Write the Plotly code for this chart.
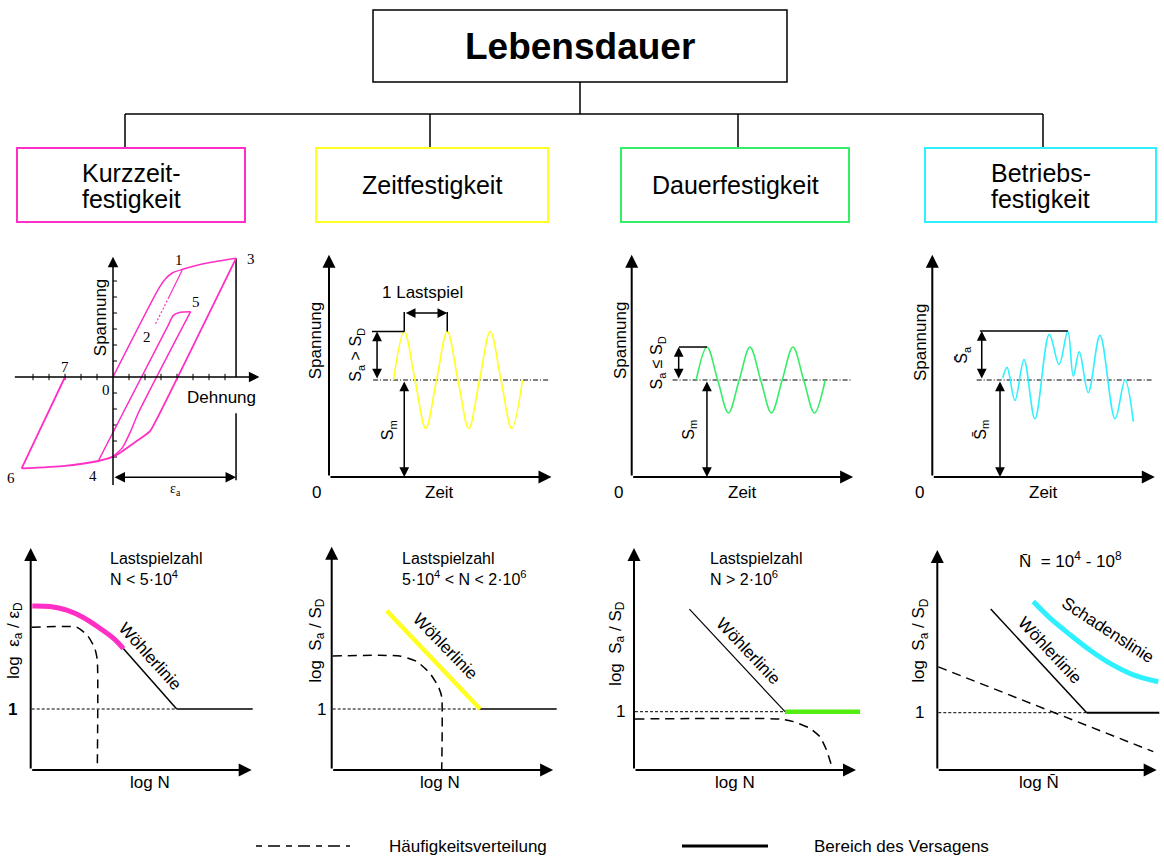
import plotly.graph_objects as go

W, H = 1164, 857
SANS = "Liberation Sans, Arial, Helvetica, sans-serif"
SERIF = "Liberation Serif, Times New Roman, serif"

MAGENTA = "#ff2ec4"
YELLOW = "#ffff22"
GREEN = "#33ee66"
GREEN_BAR = "#55ee11"
CYAN = "#2ef0ff"

# ---------------- hierarchy ----------------
root_label = "Lebensdauer"
category_lines = [["Kurzzeit-", "festigkeit"], ["Zeitfestigkeit"],
                  ["Dauerfestigkeit"], ["Betriebs-", "festigkeit"]]
category_colors = [MAGENTA, YELLOW, GREEN, CYAN]

# ---------------- hysteresis (tick units) ----------------
hyst_load_x = [0, 2.9, 3.3, 3.7, 4.35, 5.2, 6.06, 7.69]
hyst_load_y = [0, 5.6, 6.15, 6.5, 6.73, 6.97, 7.15, 7.42]
hyst_unload1_x = [4.35, 3.5]
hyst_unload1_y = [6.73, 5.0]
hyst_unload1_dot_x = [3.5, 2.65]
hyst_unload1_dot_y = [5.0, 3.3]
hyst_outer_x = [7.69, 2.75, 2.3, 1.27, 0.5, 0.0, -0.92, -3.0, -5.71]
hyst_outer_y = [7.42, -2.6, -3.4, -4.15, -4.7, -4.98, -5.25, -5.55, -5.71]
hyst_reload_x = [-5.71, -3.0]
hyst_reload_y = [-5.71, 0.0]
hyst_inner_up_x = [-0.92, 3.44, 3.77, 4.2, 4.85]
hyst_inner_up_y = [-5.25, 3.21, 3.85, 4.05, 4.08]
hyst_inner_down_x = [4.85, 1.56, 1.1, 0.6, 0.0]
hyst_inner_down_y = [4.08, -2.3, -3.4, -4.4, -4.98]
hyst_eps_a = 7.69
hyst_point_labels = ["1", "2", "3", "4", "5", "6", "7", "0"]
hyst_point_x = [4.1, 2.1, 8.6, -1.25, 5.2, -6.4, -3.0, -0.45]
hyst_point_y = [7.3, 2.5, 7.4, -6.2, 4.7, -6.3, 0.65, -0.8]

# ---------------- load-time signals (quarter-period units / stress units) ----------------
mean_stress = 10
zeit_t = [6, 7, 8, 9, 10, 11, 12, 13, 14, 15, 16, 17, 18]
zeit_s = [10, 15, 10, 5, 10, 15, 10, 5, 10, 15, 10, 5, 10]
dauer_t = [6, 7, 8, 9, 10, 11, 12, 13, 14, 15, 16, 17, 18]
dauer_s = [10, 13.4, 10, 6.6, 10, 13.4, 10, 6.6, 10, 13.4, 10, 6.6, 10]
betrieb_t = [6.55, 6.95, 7.69, 8.53, 9.55, 10.88, 11.79, 12.6, 13.12, 13.67,
             14.51, 15.6, 17.0, 17.93, 18.7]
betrieb_s = [10.2, 11.3, 7.9, 12.1, 6.0, 14.7, 11.6, 15.05, 10.4, 12.9,
             8.7, 14.6, 6.0, 10.0, 5.7]

# ---------------- S-N diagrams (log N / log S units) ----------------
kurz_mag_x = [0.08, 0.97, 1.8, 2.63, 3.47, 4.13, 4.63]
kurz_mag_y = [2.69, 2.68, 2.62, 2.5, 2.32, 2.16, 1.99]
kurz_woehler_x = [4.63, 7.3]
kurz_woehler_y = [1.99, 1.0]
kurz_freq_x = [0.05, 2.3, 2.85, 3.2, 3.33, 3.33]
kurz_freq_y = [2.34, 2.34, 2.2, 2.0, 1.8, 0.0]

zeit_woehler_x = [2.75, 7.42]
zeit_woehler_y = [2.61, 1.0]
zeit_freq_x = [0.05, 3.4, 4.25, 4.9, 5.33, 5.5, 5.5]
zeit_freq_y = [1.87, 1.87, 1.78, 1.59, 1.37, 1.2, 0.0]

dauer_woehler_x = [2.77, 7.55]
dauer_woehler_y = [2.76, 1.0]
dauer_bar_x = [7.55, 11.3]
dauer_freq_x = [0.05, 7.3, 7.97, 8.8, 9.3, 9.63, 9.89]
dauer_freq_y = [0.875, 0.875, 0.83, 0.715, 0.57, 0.34, 0.06]

betrieb_woehler_x = [2.67, 7.47]
betrieb_woehler_y = [2.81, 1.0]
betrieb_damage_x = [4.8, 5.64, 6.64, 7.64, 8.64, 9.8, 11.05]
betrieb_damage_y = [2.94, 2.65, 2.36, 2.09, 1.86, 1.66, 1.54]
betrieb_freq_x = [0.05, 10.8]
betrieb_freq_y = [1.8, 0.32]

fig = go.Figure()
fig.update_layout(width=W, height=H, margin=dict(l=0, r=0, t=0, b=0),
                  paper_bgcolor="white", plot_bgcolor="rgba(0,0,0,0)",
                  showlegend=False, font=dict(family=SANS, color="black"))


def names(n):
    s = "" if n == 1 else str(n)
    return "x" + s, "y" + s, "xaxis" + s, "yaxis" + s


def setup_panel(n, box, origin, scale):
    L, T, R, B = box
    ox, oy = origin
    sx, sy = scale
    xa, ya, xk, yk = names(n)
    fig.update_layout(**{
        xk: dict(domain=[L / W, R / W], range=[(L - ox) / sx, (R - ox) / sx],
                 visible=False, anchor=ya, fixedrange=True),
        yk: dict(domain=[1 - B / H, 1 - T / H], range=[(oy - B) / sy, (oy - T) / sy],
                 visible=False, anchor=xa, fixedrange=True),
    })


def line(n, x, y, color="black", width=1.5, dash=None, shape="linear", smoothing=1.0):
    xa, ya, _, _ = names(n)
    fig.add_trace(go.Scatter(x=x, y=y, xaxis=xa, yaxis=ya, mode="lines",
                             line=dict(color=color, width=width, dash=dash,
                                       shape=shape, smoothing=smoothing),
                             hoverinfo="skip"))


def arrow(n, x0, y0, x1, y1, both=False, width=1.5, size=1.3):
    xa, ya, _, _ = names(n)
    fig.add_annotation(x=x1, y=y1, ax=x0, ay=y0, xref=xa, yref=ya, axref=xa, ayref=ya,
                       text="", showarrow=True, arrowhead=2, arrowsize=size,
                       arrowwidth=width, arrowcolor="black",
                       arrowside="end+start" if both else "end",
                       startarrowhead=2, startarrowsize=size, standoff=0, startstandoff=0)


def label(n, x, y, text, size=17, angle=0, family=SANS, xanchor="center"):
    xa, ya, _, _ = names(n)
    fig.add_annotation(x=x, y=y, xref=xa, yref=ya, text=text, showarrow=False,
                       textangle=angle, xanchor=xanchor, yanchor="middle", align=xanchor,
                       font=dict(family=family, size=size, color="black"))


def px(p):
    return p / W


def py(p):
    return 1 - p / H


def paper_text(x, y, text, size, xanchor="center"):
    fig.add_annotation(xref="paper", yref="paper", x=px(x), y=py(y), text=text,
                       showarrow=False, xanchor=xanchor, yanchor="middle",
                       font=dict(family=SANS, size=size, color="black"))


# ---------------- hierarchy boxes ----------------
fig.add_shape(type="rect", xref="paper", yref="paper", x0=px(373), x1=px(787),
              y0=py(82), y1=py(10), line=dict(color="black", width=1.5))
paper_text(580, 47, "<b>" + root_label + "</b>", 37)
fig.add_shape(type="line", xref="paper", yref="paper", x0=px(580), x1=px(580), y0=py(82), y1=py(114),
              line=dict(color="black", width=1.5))
drop_x = [125, 430, 738, 1043]
fig.add_shape(type="line", xref="paper", yref="paper", x0=px(drop_x[0]), x1=px(drop_x[-1]),
              y0=py(114), y1=py(114), line=dict(color="black", width=1.5))
box_x = [(17, 245), (316, 548), (621, 849), (925, 1156)]
for dx, (x0, x1), lines_, col in zip(drop_x, box_x, category_lines, category_colors):
    fig.add_shape(type="line", xref="paper", yref="paper", x0=px(dx), x1=px(dx), y0=py(114), y1=py(148),
                  line=dict(color="black", width=1.5))
    fig.add_shape(type="rect", xref="paper", yref="paper", x0=px(x0), x1=px(x1), y0=py(222), y1=py(148),
                  line=dict(color=col, width=2))
    cx = (x0 + x1) / 2
    ys = [185] if len(lines_) == 1 else [173, 199]
    for t, yy in zip(lines_, ys):
        paper_text(cx, yy, t, 25)

# ---------------- panel 1: hysteresis ----------------
setup_panel(1, (0, 240, 290, 505), (113, 377), (16, 16))
arrow(1, -6.23, 0, 9.15, 0, width=1.5, size=1.4)
arrow(1, 0, -6.85, 0, 7.52, width=1.5, size=1.4)
tx, ty = [], []
for k in range(-5, 8):
    if k != 0:
        tx += [k, k, None]
        ty += [-0.2, 0.2, None]
for k in range(-5, 7):
    if k != 0:
        tx += [0, 0.25, None]
        ty += [k, k, None]
line(1, tx, ty, width=1)
line(1, [hyst_eps_a, hyst_eps_a], [hyst_load_y[-1], 0], width=1.5)
line(1, [hyst_eps_a, hyst_eps_a], [-2.27, -6.45], width=1.5)
arrow(1, 0, -6.27, hyst_eps_a, -6.27, both=True, width=1.5, size=1.4)
line(1, hyst_load_x, hyst_load_y, color=MAGENTA, width=1.5, shape="spline", smoothing=0.6)
line(1, hyst_unload1_x, hyst_unload1_y, color=MAGENTA, width=1.2)
line(1, hyst_unload1_dot_x, hyst_unload1_dot_y, color=MAGENTA, width=1.2, dash="2px,2px")
line(1, hyst_outer_x, hyst_outer_y, color=MAGENTA, width=1.8, shape="spline", smoothing=0.6)
line(1, hyst_reload_x, hyst_reload_y, color=MAGENTA, width=1.8)
line(1, hyst_inner_up_x, hyst_inner_up_y, color=MAGENTA, width=1.5, shape="spline", smoothing=0.6)
line(1, hyst_inner_down_x, hyst_inner_down_y, color=MAGENTA, width=1.5, shape="spline", smoothing=0.6)
for t, xx, yy in zip(hyst_point_labels, hyst_point_x, hyst_point_y):
    label(1, xx, yy, t, size=15, family=SERIF)
label(1, -0.8, 3.75, "Spannung", size=17, angle=-90)
label(1, 6.8, -1.25, "Dehnung", size=17)
label(1, 3.9, -7.0, "ε<sub>a</sub>", size=14, family=SERIF)


# ---------------- panels 2-4: stress-time signals ----------------
def time_panel(n, box, origin, t, s, color, amp_top, amp_x, sm_x, sa_text, sa_pos, sm_text, sm_pos,
               mean_x, top_line_x, ylabel_pos, xend, ytop):
    setup_panel(n, box, origin, (10.75, 9.7))
    arrow(n, 0, 0, xend, 0, width=2, size=1.3)
    arrow(n, 0, 0, 0, ytop, width=2, size=1.3)
    line(n, mean_x, [mean_stress, mean_stress], width=1, dash="5px,2px,1px,2px")
    line(n, t, s, color=color, width=1.6, shape="spline", smoothing=1.0)
    line(n, top_line_x, [amp_top, amp_top], width=1.5)
    arrow(n, amp_x, mean_stress, amp_x, amp_top, both=True, width=1.5, size=1.3)
    arrow(n, sm_x, mean_stress, sm_x, 0, both=True, width=1.5, size=1.3)
    label(n, sa_pos[0], sa_pos[1], sa_text, size=16, angle=-90)
    label(n, sm_pos[0], sm_pos[1], sm_text, size=16, angle=-90)
    label(n, ylabel_pos[0], ylabel_pos[1], "Spannung", size=17, angle=-90)
    label(n, -1.2, -1.55, "0", size=17)
    label(n, 10.3, -1.55, "Zeit", size=17)


time_panel(2, (295, 240, 580, 505), (329, 477), zeit_t, zeit_s, YELLOW,
           15, 4.47, 7, "S<sub>a</sub> > S<sub>D</sub>", (2.6, 12.6), "S<sub>m</sub>", (5.6, 4.85),
           [4.1, 20.4], [4.0, 7], (-1.3, 14.1), 20.7, 22.9)
line(2, [7, 7], [15, 17], width=1.5)
line(2, [11, 11], [15, 17], width=1.5)
arrow(2, 7, 16.9, 11, 16.9, both=True, width=1.5, size=1.3)
label(2, 8.74, 19.0, "1 Lastspiel", size=17)

time_panel(3, (585, 240, 870, 505), (631.7, 477), dauer_t, dauer_s, GREEN,
           13.4, 4.37, 7, "S<sub>a</sub> ≤ S<sub>D</sub>", (2.4, 11.75), "S<sub>m</sub>", (5.4, 4.85),
           [3.8, 20.5], [4.4, 7], (-1.1, 14.1), 20.6, 22.9)

time_panel(4, (875, 240, 1164, 505), (932.3, 477), betrieb_t, betrieb_s, CYAN,
           15.05, 4.6, 6.3, "S\u0304<sub>a</sub>", (2.85, 12.6), "S\u0304<sub>m</sub>", (4.6, 4.85),
           [4.13, 20.4], [4.43, 12.6], (-1.15, 13.9), 20.7, 22.9)


# ---------------- panels 5-8: S-N diagrams ----------------
def sn_axes(n, xend, ytop, level_end, ylabel, ylabel_pos, one_x, bold_one=False):
    arrow(n, 0, 0, xend, 0, width=2, size=1.3)
    arrow(n, 0, 0, 0, ytop, width=2, size=1.3)
    line(n, [0.05, level_end], [1, 1], width=1, dash="3px,2px")
    label(n, ylabel_pos[0], ylabel_pos[1], ylabel, size=17, angle=-90)
    label(n, one_x, 1, "<b>1</b>" if bold_one else "1", size=17)


# Kurzzeitfestigkeit
setup_panel(5, (0, 530, 290, 800), (30.7, 770), (20, 61))
sn_axes(5, 11.05, 3.64, 7.3, "log  ε<sub>a</sub> / ε<sub>D</sub>", (-0.79, 2.13), -0.89, bold_one=True)
line(5, [7.3, 11.1], [1, 1], width=1.5)
line(5, kurz_woehler_x, kurz_woehler_y, width=1.5)
line(5, kurz_mag_x, kurz_mag_y, color=MAGENTA, width=5, shape="spline")
line(5, kurz_freq_x, kurz_freq_y, width=1.5, dash="9px,6px", shape="spline", smoothing=0.5)
label(5, 3.87, 3.3, "Lastspielzahl<br>N < 5·10<sup>4</sup>", size=16, xanchor="left")
label(5, 5.97, 1.86, "Wöhlerlinie", size=17, angle=48)
label(5, 5.97, -0.2, "log N", size=17)

# Zeitfestigkeit
setup_panel(6, (295, 530, 580, 800), (331.7, 770), (20, 61))
sn_axes(6, 11.07, 3.66, 7.42, "log  S<sub>a</sub> / S<sub>D</sub>", (-0.75, 2.13), -0.5)
line(6, [7.42, 11.25], [1, 1], width=1.5)
line(6, zeit_freq_x, zeit_freq_y, width=1.5, dash="9px,6px", shape="spline", smoothing=0.5)
line(6, zeit_woehler_x, zeit_woehler_y, color=YELLOW, width=4.5)
label(6, 3.42, 3.3, "Lastspielzahl<br>5·10<sup>4</sup> < N < 2·10<sup>6</sup>", size=16, xanchor="left")
label(6, 5.67, 2.02, "Wöhlerlinie", size=17, angle=46)
label(6, 5.4, -0.2, "log N", size=17)

# Dauerfestigkeit
setup_panel(7, (585, 530, 870, 800), (634, 770), (20, 58.3))
sn_axes(7, 11.1, 3.81, 11.3, "log  S<sub>a</sub> / S<sub>D</sub>", (-0.83, 2.17), -0.7)
line(7, dauer_bar_x, [1, 1], color=GREEN_BAR, width=4.5)
line(7, dauer_woehler_x, dauer_woehler_y, width=1.2)
line(7, dauer_freq_x, dauer_freq_y, width=1.5, dash="9px,6px", shape="spline", smoothing=0.5)
label(7, 3.72, 3.45, "Lastspielzahl<br>N > 2·10<sup>6</sup>", size=16, xanchor="left")
label(7, 5.72, 2.03, "Wöhlerlinie", size=17, angle=46.5)
label(7, 5.05, -0.21, "log N", size=17)

# Betriebsfestigkeit
setup_panel(8, (875, 530, 1164, 800), (937.3, 770), (20, 57.3))
sn_axes(8, 10.97, 3.84, 7.47, "log  S<sub>a</sub> / S<sub>D</sub>", (-0.87, 2.27), -0.87)
line(8, [7.47, 11.1], [1, 1], width=2)
line(8, betrieb_woehler_x, betrieb_woehler_y, width=1.5)
line(8, betrieb_damage_x, betrieb_damage_y, color=CYAN, width=5, shape="spline")
line(8, betrieb_freq_x, betrieb_freq_y, width=1.5, dash="9px,6px")
label(8, 3.97, 3.66, "N\u0304  = 10<sup>4</sup> - 10<sup>8</sup>", size=17, xanchor="left")
label(8, 5.63, 2.09, "Wöhlerlinie", size=17, angle=47)
label(8, 8.55, 2.44, "Schadenslinie", size=17, angle=33)
label(8, 5.1, -0.21, "log N\u0304", size=17)

# ---------------- key ----------------
fig.add_shape(type="line", xref="paper", yref="paper", x0=px(256), x1=px(350), y0=py(846), y1=py(846),
              line=dict(color="black", width=1.5, dash="6px,6px,12px,6px"))
paper_text(387, 846, "Häufigkeitsverteilung", 17, xanchor="left")
fig.add_shape(type="line", xref="paper", yref="paper", x0=px(682), x1=px(768), y0=py(846), y1=py(846),
              line=dict(color="black", width=3))
paper_text(812, 846, "Bereich des Versagens", 17, xanchor="left")

fig.write_html("out.html")
